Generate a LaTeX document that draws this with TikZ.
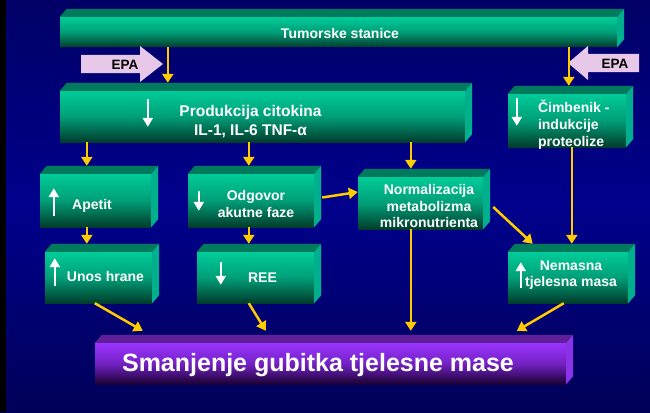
\documentclass[tikz,border=0pt]{standalone}
\usepackage{fontspec}
\setmainfont{Liberation Sans}
\usetikzlibrary{arrows.meta}

\definecolor{pozadina}{HTML}{00008C}
\definecolor{pozadinaGore}{HTML}{000066}
\definecolor{pozadinaDolje}{HTML}{000058}
\definecolor{zelenaSvijetla}{HTML}{00CC99}
\definecolor{zelenaSrednja}{HTML}{009E77}
\definecolor{zelenaTamna}{HTML}{003D2C}
\definecolor{zelenaGornja}{HTML}{007A5C}
\definecolor{zelenaBocna}{HTML}{00B08C}
\definecolor{ljubSvijetla}{HTML}{9933FF}
\definecolor{ljubSrednja}{HTML}{7422C4}
\definecolor{ljubTamna}{HTML}{1A0033}
\definecolor{ljubGornja}{HTML}{5E1F99}
\definecolor{ljubBocna}{HTML}{8A33E6}
\definecolor{zuta}{HTML}{FFCC00}
\definecolor{epaBoja}{HTML}{E8C8E8}

\begin{document}
\begin{tikzpicture}[
        x=1pt, y=-1pt, % jedinica = piksel, y ide prema dolje
        blok/.style = {rectangle, inner sep=0pt, top color=zelenaSvijetla, bottom color=zelenaTamna, middle color=zelenaSrednja},
        ljubblok/.style = {rectangle, inner sep=0pt, top color=ljubSvijetla, bottom color=ljubTamna, middle color=ljubSrednja},
        gornja/.style = {fill=zelenaGornja}, % gornja ploha kocke
        bocna/.style = {fill=zelenaBocna}, % desna ploha kocke
        tekst/.style = {inner sep=0pt, text=white, align=center, font=\fontsize{14}{16.5}\selectfont\bfseries},
        epa/.style = {fill=epaBoja},
        epatekst/.style = {inner sep=0pt, text=black, font=\fontsize{13.5}{16}\selectfont\bfseries},
        strelica/.style = {draw=zuta, line width=2.5pt, -{Triangle[width=11pt,length=9pt]}},
        bijela/.style = {draw=white, line width=2.4pt, -{Triangle[width=10pt,length=9pt]}},
    ]

    % pozadina
    \useasboundingbox (0,0) rectangle (650,412);
    \fill[top color=pozadinaGore, bottom color=pozadinaDolje, middle color=pozadina] (0,0) rectangle (650,412);
    \fill[black] (0,0) rectangle (6,412);

    % blokovi (prednje plohe)
    \node[blok, minimum width=557, minimum height=30] (tumor) at (338.5,32) {};
    \node[blok, minimum width=405, minimum height=51] (citokin) at (262.5,116.5) {};
    \node[blok, minimum width=118, minimum height=53] (cimb) at (567,120.5) {};
    \node[blok, minimum width=111, minimum height=53] (apetit) at (95.5,200.5) {};
    \node[blok, minimum width=126, minimum height=53] (odgovor) at (251,200.5) {};
    \node[blok, minimum width=125, minimum height=52] (normal) at (420.5,203) {};
    \node[blok, minimum width=107, minimum height=51] (unos) at (98.5,277.5) {};
    \node[blok, minimum width=117, minimum height=51] (ree) at (255.5,277.5) {};
    \node[blok, minimum width=120, minimum height=51] (nemas) at (568,277.5) {};
    \node[ljubblok, minimum width=471, minimum height=41] (smanj) at (330.5,363.5) {};

    % gornje i bocne plohe
    \foreach \n in {tumor,citokin,cimb,apetit,odgovor,normal,unos,ree,nemas}{
        \fill[gornja] (\n.north west) -- ++(7,-8) -- ([shift={(7,-8)}]\n.north east) -- (\n.north east) -- cycle;
        \fill[bocna] (\n.north east) -- ++(7,-8) -- ([shift={(7,-8)}]\n.south east) -- (\n.south east) -- cycle;
    }
    \fill[ljubGornja] (smanj.north west) -- ++(7,-8) -- ([shift={(7,-8)}]smanj.north east) -- (smanj.north east) -- cycle;
    \fill[ljubBocna] (smanj.north east) -- ++(7,-8) -- ([shift={(7,-8)}]smanj.south east) -- (smanj.south east) -- cycle;

    % EPA strelice
    \fill[epa] (81,55) -- (140,55) -- (140,46) -- (163,64) -- (140,82) -- (140,73) -- (81,73) -- cycle;
    \fill[epa] (639,54) -- (588,54) -- (588,46) -- (568,63) -- (588,80) -- (588,72) -- (639,72) -- cycle;
    \node[epatekst] (epaL) at (125,65) {EPA};
    \node[epatekst] (epaD) at (615,64) {EPA};

    % tekstovi
    \node[tekst] (tumor-t) at ([xshift=1.5pt,yshift=-1pt]tumor.center) {Tumorske stanice};
    \node[tekst, font=\fontsize{15.5}{19}\selectfont\bfseries] (citokin-t) at ([xshift=-12pt,yshift=-5pt]citokin.center) {Produkcija citokina\\IL-1, IL-6 TNF-α};
    \node[tekst, anchor=west, align=left, font=\fontsize{14}{17}\selectfont\bfseries] (cimb-t) at ([xshift=30pt,yshift=-4.5pt]cimb.west) {Čimbenik -\\indukcije\\proteolize};
    \node[tekst] (apetit-t) at ([xshift=-3.5pt,yshift=-5.5pt]apetit.center) {Apetit};
    \node[tekst, font=\fontsize{14}{17}\selectfont\bfseries] (odgovor-t) at ([xshift=5pt,yshift=-3pt]odgovor.center) {Odgovor\\akutne faze};
    \node[tekst] (normal-t) at ([xshift=8.5pt,yshift=-3pt]normal.center) {Normalizacija\\metabolizma\\mikronutrienta};
    \node[tekst] (unos-t) at ([xshift=7pt,yshift=1.5pt]unos.center) {Unos hrane};
    \node[tekst] (ree-t) at ([xshift=7pt]ree.center) {REE};
    \node[tekst] (nemas-t) at ([xshift=3pt,yshift=2.5pt]nemas.center) {Nemasna\\tjelesna masa};
    \node[tekst, font=\fontsize{25}{30}\selectfont\bfseries] (smanj-t) at ([xshift=-12.5pt,yshift=-1.5pt]smanj.center) {Smanjenje gubitka tjelesne mase};

    % bijele strelice u blokovima
    \draw[bijela] ([xshift=88pt,yshift=-8pt]citokin.north west) -- ++(0,28);
    \draw[bijela] ([xshift=9pt,yshift=-4pt]cimb.north west) -- ++(0,28);
    \draw[bijela] ([xshift=14pt,yshift=11pt]apetit.south west) -- ++(0,-28);
    \draw[bijela] ([xshift=11pt,yshift=-17pt]odgovor.north west) -- ++(0,20);
    \draw[bijela] ([xshift=10pt,yshift=17pt]unos.south west) -- ++(0,-28);
    \draw[bijela] ([xshift=24pt,yshift=-10pt]ree.north west) -- ++(0,23);
    \draw[bijela] ([xshift=13pt,yshift=15pt]nemas.south west) -- ++(0,-26);

    % zute veze
    \draw[strelica] ([xshift=108pt]tumor.south west) -- ([xshift=108pt,yshift=8pt]citokin.north west);
    \draw[strelica] ([xshift=509pt]tumor.south west) -- ([xshift=61pt,yshift=8pt]cimb.north west);
    \draw[strelica] ([xshift=27pt]citokin.south west) -- ([xshift=47pt,yshift=8pt]apetit.north west);
    \draw[strelica] ([xshift=189pt]citokin.south west) -- ([xshift=61pt,yshift=8pt]odgovor.north west);
    \draw[strelica] ([xshift=351pt]citokin.south west) -- ([xshift=53pt,yshift=8pt]normal.north west);
    \draw[strelica] ([xshift=8pt,yshift=3pt]odgovor.east) -- ([yshift=11pt]normal.west);
    \draw[strelica] ([xshift=64pt]cimb.south west) -- ([xshift=64pt,yshift=8pt]nemas.north west);
    \draw[strelica] ([xshift=10pt,yshift=-4pt]normal.east) -- ([xshift=25pt,yshift=8pt]nemas.north west);
    \draw[strelica] ([xshift=47pt]apetit.south west) -- ([xshift=42pt,yshift=8pt]unos.north west);
    \draw[strelica] ([xshift=61pt]odgovor.south west) -- ([xshift=52pt,yshift=8pt]ree.north west);
    \draw[strelica] ([xshift=50pt]unos.south west) -- ([xshift=48pt,yshift=12pt]smanj.north west);
    \draw[strelica] ([xshift=52pt]ree.south west) -- ([xshift=171pt,yshift=12pt]smanj.north west);
    \draw[strelica] ([xshift=53pt]normal.south west) -- ([xshift=316pt,yshift=12pt]smanj.north west);
    \draw[strelica] ([xshift=56pt]nemas.south west) -- ([xshift=422pt,yshift=12pt]smanj.north west);
\end{tikzpicture}
\end{document}
